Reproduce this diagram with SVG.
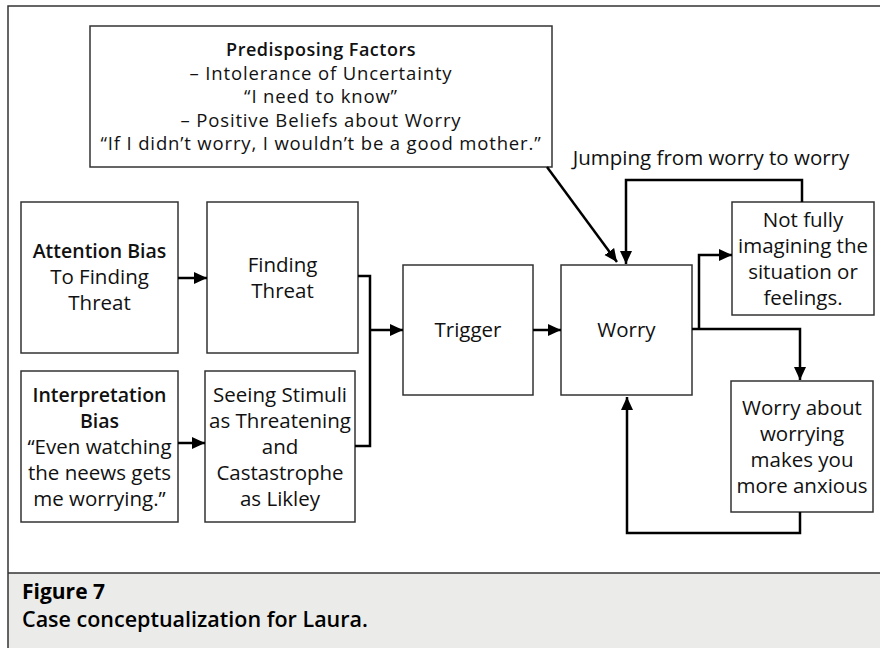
<svg xmlns="http://www.w3.org/2000/svg" width="880" height="648" viewBox="0 0 880 648">
<defs>
<marker id="ah" markerUnits="userSpaceOnUse" markerWidth="14" markerHeight="14" refX="13" refY="7" orient="auto">
<path d="M0,1 L13,7 L0,13 z" fill="#000"/>
</marker>
<style>
.box{fill:#fff;stroke:#333;stroke-width:1.5}
.t{font-family:"Open Sans","Noto Sans",sans-serif;font-size:20.5px;fill:#111;text-anchor:middle}
.b{font-weight:600;font-size:19.5px}
.p{font-size:18.5px;letter-spacing:0.85px}
.pb{font-weight:600;font-size:18px;letter-spacing:0.5px}
.c{fill:none;stroke:#000;stroke-width:2.5;marker-end:url(#ah)}
.cn{fill:none;stroke:#000;stroke-width:2.5}
.cap{font-family:"Open Sans","Noto Sans",sans-serif;fill:#000;font-weight:bold}
</style>
</defs>
<rect x="0" y="0" width="880" height="648" fill="#fff"/>
<rect x="8" y="573" width="872" height="75" fill="#ebecea"/>
<path d="M8,648 V6 H880" fill="none" stroke="#333" stroke-width="1.5"/>
<path d="M8,573 H880" fill="none" stroke="#333" stroke-width="1.5"/>
<text class="cap" x="22" y="599" font-size="21">Figure 7</text>
<text class="cap" x="22" y="627" font-size="21.5" style="font-weight:600">Case conceptualization for Laura.</text>

<g id="predisposing">
<rect class="box" x="90" y="26" width="462" height="141"/>
<text class="t pb" x="321" y="56">Predisposing Factors</text>
<text class="t p" x="321" y="79.5">– Intolerance of Uncertainty</text>
<text class="t p" x="321" y="103">“I need to know”</text>
<text class="t p" x="321" y="126.5">– Positive Beliefs about Worry</text>
<text class="t p" x="321" y="150">“If I didn’t worry, I wouldn’t be a good mother.”</text>
</g>
<g id="attention">
<rect class="box" x="21" y="202" width="157" height="151"/>
<text class="t b" x="99.5" y="258">Attention Bias</text>
<text class="t" x="99.5" y="284">To Finding</text>
<text class="t" x="99.5" y="310">Threat</text>
</g>
<g id="finding">
<rect class="box" x="207" y="202" width="151" height="151"/>
<text class="t" x="282.5" y="272">Finding</text>
<text class="t" x="282.5" y="298">Threat</text>
</g>
<g id="interpretation">
<rect class="box" x="21" y="371" width="157" height="151"/>
<text class="t b" x="99.5" y="402">Interpretation</text>
<text class="t b" x="99.5" y="428">Bias</text>
<text class="t" x="99.5" y="454">“Even watching</text>
<text class="t" x="99.5" y="480">the neews gets</text>
<text class="t" x="99.5" y="506">me worrying.”</text>
</g>
<g id="seeing">
<rect class="box" x="205" y="371" width="150" height="151"/>
<text class="t" x="280" y="402">Seeing Stimuli</text>
<text class="t" x="280" y="428">as Threatening</text>
<text class="t" x="280" y="454">and</text>
<text class="t" x="280" y="480">Castastrophe</text>
<text class="t" x="280" y="506">as Likley</text>
</g>
<g id="trigger">
<rect class="box" x="403" y="265" width="130" height="130"/>
<text class="t" x="468" y="337">Trigger</text>
</g>
<g id="worry">
<rect class="box" x="561" y="265" width="131" height="130"/>
<text class="t" x="626.5" y="337">Worry</text>
</g>
<g id="notfully">
<rect class="box" x="732" y="202" width="142" height="113"/>
<text class="t" x="803" y="227">Not fully</text>
<text class="t" x="803" y="253">imagining the</text>
<text class="t" x="803" y="279">situation or</text>
<text class="t" x="803" y="305">feelings.</text>
</g>
<g id="worryabout">
<rect class="box" x="731" y="381" width="142" height="131"/>
<text class="t" x="802" y="415">Worry about</text>
<text class="t" x="802" y="441">worrying</text>
<text class="t" x="802" y="467">makes you</text>
<text class="t" x="802" y="493">more anxious</text>
</g>
<g id="connectors">
<path class="c" d="M178,278 H207"/>
<path class="c" d="M178,443 H205"/>
<path class="cn" d="M358,276 H370 V446 H355"/>
<path class="c" d="M370,330 H403"/>
<path class="c" d="M533,330 H561"/>
<path class="c" d="M547,167 L617,262"/>
<path class="c" d="M802,202 V180 H626 V264"/>
<path class="c" d="M692,329 H800 V380"/>
<path class="c" d="M699,329 V255 H732"/>
<path class="c" d="M800,512 V533 H627 V397"/>
<text class="t" x="711" y="165">Jumping from worry to worry</text>
</g>
</svg>
